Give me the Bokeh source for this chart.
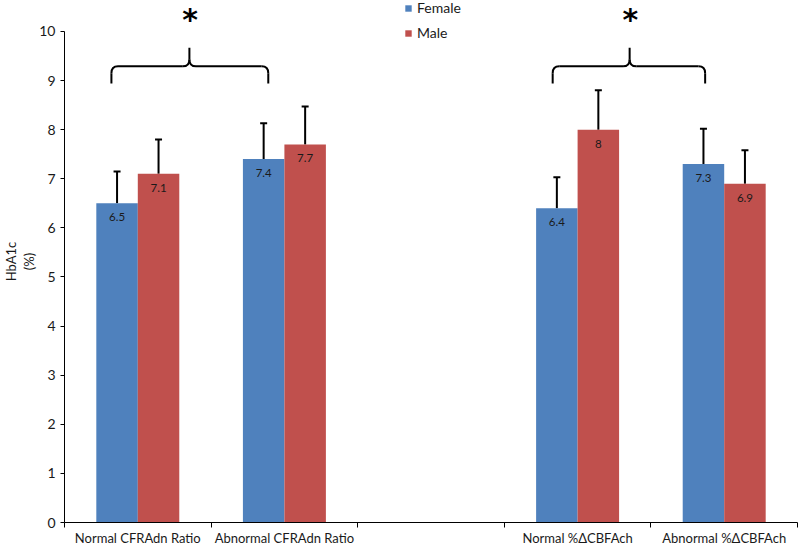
import math
from bokeh.plotting import figure
from bokeh.models import (Range1d, FixedTicker, Legend, LegendItem, Whisker, TeeHead,
                          ColumnDataSource, Title)
from bokeh.core.properties import value
from bokeh.embed import file_html
from bokeh.resources import INLINE

# ---------------- data ----------------
categories = ["Normal CFRAdn Ratio", "Abnormal CFRAdn Ratio", "",
              "Normal %ΔCBFAch", "Abnormal %ΔCBFAch"]
series_names = ["Female", "Male"]
female = [6.5, 7.4, None, 6.4, 7.3]
male = [7.1, 7.7, None, 8.0, 6.9]
female_err = [0.65, 0.73, None, 0.63, 0.72]
male_err = [0.70, 0.77, None, 0.80, 0.68]
y_ticks = [0, 1, 2, 3, 4, 5, 6, 7, 8, 9, 10]
y_label_lines = ["(%)", "HbA1c"]   # inner line first
significance_text = "*"

# ---------------- style ----------------
FONT = "Lato"
COLORS = ["#4F81BD", "#C0504D"]
BAR_W = 0.283
TEXT_COLOR = "#1a1a1a"

p = figure(width=799, height=548, x_range=Range1d(0, len(categories)),
           y_range=Range1d(0, 10.63), output_backend="svg", toolbar_location=None,
           title=None, min_border_left=64, min_border_right=2, min_border_top=0,
           min_border_bottom=26)
p.outline_line_color = None
p.xgrid.visible = False
p.ygrid.visible = False
p.background_fill_color = "white"

# x axis: labels at category centers, ticks at boundaries
centers = [i + 0.5 for i, c in enumerate(categories) if c]
p.xaxis.ticker = FixedTicker(ticks=centers,
                             minor_ticks=[float(i) for i in range(len(categories) + 1)])
p.xaxis.major_label_overrides = {i + 0.5: c for i, c in enumerate(categories) if c}
p.xaxis.major_tick_out = 0
p.xaxis.major_tick_in = 0
p.xaxis.minor_tick_out = 5
p.xaxis.minor_tick_in = 0
p.xaxis.major_label_standoff = 2
p.xaxis.axis_line_color = "black"
p.xaxis.minor_tick_line_color = "black"
p.xaxis.major_label_text_font = FONT
p.xaxis.major_label_text_font_size = "13px"
p.xaxis.major_label_text_color = TEXT_COLOR

# y axis
p.yaxis.ticker = FixedTicker(ticks=y_ticks, minor_ticks=[])
p.yaxis.bounds = (y_ticks[0], y_ticks[-1])
p.yaxis.major_tick_out = 4
p.yaxis.major_tick_in = 0
p.yaxis.minor_tick_line_color = None
p.yaxis.major_label_standoff = 5
p.yaxis.axis_line_color = "black"
p.yaxis.major_tick_line_color = "black"
p.yaxis.major_label_text_font = FONT
p.yaxis.major_label_text_font_size = "14px"
p.yaxis.major_label_text_color = TEXT_COLOR

# bars, error bars, value labels
renderers = []
for s, (vals, errs, off, col) in enumerate(zip([female, male], [female_err, male_err],
                                               [-BAR_W / 2, BAR_W / 2], COLORS)):
    xs, tops, ups, labs = [], [], [], []
    for i, (v, e) in enumerate(zip(vals, errs)):
        if v is None:
            continue
        xs.append(i + 0.5 + off)
        tops.append(v)
        ups.append(v + e)
        labs.append(f"{v:g}")
    src = ColumnDataSource(dict(x=xs, top=tops, upper=ups, lab=labs))
    r = p.vbar(x="x", top="top", width=BAR_W, source=src, fill_color=col, line_color=None)
    renderers.append(r)
    w = Whisker(source=src, base="x", lower="top", upper="upper", dimension="height",
                line_color="black", line_width=2,
                upper_head=TeeHead(size=7, line_color="black", line_width=2),
                lower_head=None)
    p.add_layout(w)
    p.text(x="x", y="top", text="lab", source=src, y_offset=14, text_align="center",
           text_baseline="middle", text_font=value(FONT), text_font_size="11.5px",
           text_color=TEXT_COLOR)

# significance braces
braces = [(0.32, 1.39, 0.852), (3.33, 4.37, 3.855)]
Y_H, Y_END, Y_TIP, Y_STAR = 9.29, 8.94, 9.67, 10.24
DX, DY = 0.045, 0.14
for x0, x1, xm in braces:
    p.line([x0, x0], [Y_END, Y_H - DY], line_color="black", line_width=2)
    p.line([x1, x1], [Y_END, Y_H - DY], line_color="black", line_width=2)
    p.quadratic(x0=[x0, x1], y0=[Y_H - DY] * 2, x1=[x0 + DX, x1 - DX], y1=[Y_H] * 2,
                cx=[x0, x1], cy=[Y_H] * 2, line_color="black", line_width=2)
    p.line([x0 + DX, xm - DX], [Y_H, Y_H], line_color="black", line_width=2)
    p.line([xm + DX, x1 - DX], [Y_H, Y_H], line_color="black", line_width=2)
    p.quadratic(x0=[xm - DX, xm + DX], y0=[Y_H] * 2, x1=[xm, xm], y1=[Y_H + DY] * 2,
                cx=[xm, xm], cy=[Y_H] * 2, line_color="black", line_width=2)
    p.line([xm, xm], [Y_H + DY, Y_TIP], line_color="black", line_width=2)
    p.text(x=[xm + 0.005], y=[Y_STAR], text=[significance_text], text_align="center",
           text_baseline="middle", text_font=value("DejaVu Sans"),
           text_font_size="30px", text_font_style="bold", text_color="black")

# legend
legend = Legend(items=[LegendItem(label=n, renderers=[r]) for n, r in zip(series_names, renderers)],
                location=(340, 481), orientation="vertical", padding=0, margin=0, spacing=8,
                glyph_width=8, glyph_height=8, label_height=16, label_standoff=5,
                label_text_font=FONT, label_text_font_size="14px",
                label_text_color=TEXT_COLOR, border_line_alpha=0, background_fill_alpha=0)
p.add_layout(legend)

# y-axis title (two lines, rotated), placed as left-side titles
for txt in y_label_lines:
    p.add_layout(Title(text=txt, align="center", standoff=0,
                       text_font=FONT, text_font_size="13px", text_font_style="normal",
                       text_color=TEXT_COLOR), "left")

open("out.html", "w").write(file_html(p, INLINE))
